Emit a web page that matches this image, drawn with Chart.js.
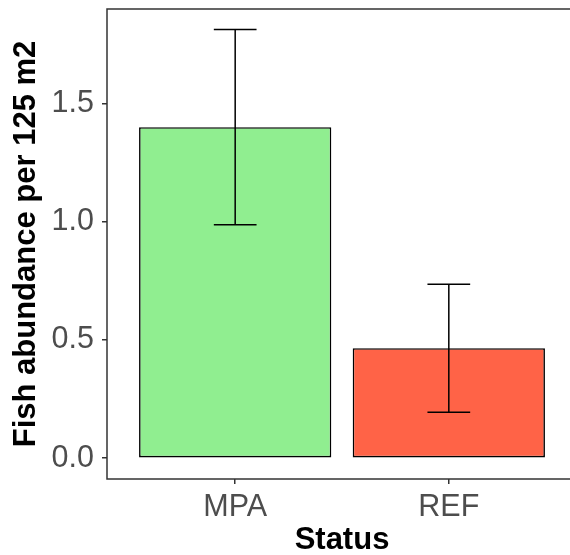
<!DOCTYPE html>
<html>
<head>
<meta charset="utf-8">
<script src="https://cdn.jsdelivr.net/npm/chart.js@4/dist/chart.umd.min.js"></script>
<style>
    html, body { margin: 0; padding: 0; overflow: hidden; background: #fff; }
</style>
</head>
<body>
<canvas id="chart" width="600" height="555"></canvas>
<script>
// data
const categories = ['MPA', 'REF'];
const meanAbundance = [1.40, 0.465];
const stdError = [0.413, 0.271];
const barColors = ['#90EE90', '#FF6347'];
const yTickValues = [0, 0.5, 1.0, 1.5];
const yMin = -0.088;
const yMax = 1.900;

// error bars + panel border drawn on top of the bars
const errorBarPlugin = {
    id: 'errorBars',
    afterDatasetsDraw(chart) {
        const ctx = chart.ctx;
        const xScale = chart.scales.x;
        const yScale = chart.scales.y;
        ctx.save();
        ctx.strokeStyle = '#000';
        ctx.lineWidth = 1.5;
        categories.forEach((cat, i) => {
            const xVal = i + 1;
            const cx = xScale.getPixelForValue(xVal);
            const capL = xScale.getPixelForValue(xVal - 0.1);
            const capR = xScale.getPixelForValue(xVal + 0.1);
            const yTop = yScale.getPixelForValue(meanAbundance[i] + stdError[i]);
            const yBot = yScale.getPixelForValue(meanAbundance[i] - stdError[i]);
            ctx.beginPath();
            ctx.moveTo(cx, yTop);
            ctx.lineTo(cx, yBot);
            ctx.moveTo(capL, yTop);
            ctx.lineTo(capR, yTop);
            ctx.moveTo(capL, yBot);
            ctx.lineTo(capR, yBot);
            ctx.stroke();
        });
        const area = chart.chartArea;
        ctx.strokeStyle = '#333333';
        ctx.lineWidth = 1.5;
        ctx.strokeRect(area.left, area.top, area.right - area.left, area.bottom - area.top);
        ctx.restore();
    }
};

// kill the label overflow padding so the layout padding decides the plot box
function noLabelPadding(scale) {
    scale.paddingTop = 0;
    scale.paddingBottom = 0;
    scale.paddingLeft = 0;
    scale.paddingRight = 0;
}

const ctx = document.getElementById('chart').getContext('2d');
new Chart(ctx, {
    type: 'bar',
    data: {
        datasets: [{
            data: categories.map((c, i) => ({ x: i + 1, y: meanAbundance[i] })),
            backgroundColor: barColors,
            borderColor: '#000',
            borderWidth: 1.6,
            borderSkipped: false,
            categoryPercentage: 1.0,
            barPercentage: 0.9
        }]
    },
    options: {
        responsive: false,
        animation: false,
        layout: { padding: { top: 9, right: 23, left: 0, bottom: 0 } },
        plugins: {
            legend: { display: false },
            tooltip: { enabled: false }
        },
        scales: {
            x: {
                type: 'linear',
                min: 0.4,
                max: 2.6,
                offset: false,
                afterBuildTicks: (scale) => {
                    scale.ticks = categories.map((c, i) => ({ value: i + 1 }));
                },
                afterFit: (scale) => {
                    scale.height = 76;
                    noLabelPadding(scale);
                },
                border: { display: false },
                grid: { offset: false, drawOnChartArea: false, drawTicks: true, tickLength: 5, color: '#333333', lineWidth: 1.5 },
                ticks: {
                    color: '#4D4D4D',
                    font: { family: 'Liberation Sans, Arial, sans-serif', size: 30.5 },
                    padding: 5,
                    maxRotation: 0,
                    callback: (v) => categories[v - 1]
                },
                title: {
                    display: true,
                    text: 'Status',
                    color: '#000',
                    font: { family: 'Liberation Sans, Arial, sans-serif', size: 31, weight: 'bold', lineHeight: 1 },
                    padding: { top: 0, bottom: -1 }
                }
            },
            y: {
                min: yMin,
                max: yMax,
                afterBuildTicks: (scale) => {
                    scale.ticks = yTickValues.map(v => ({ value: v }));
                },
                afterFit: (scale) => {
                    scale.width = 107;
                    noLabelPadding(scale);
                },
                border: { display: false },
                grid: { drawOnChartArea: false, drawTicks: true, tickLength: 5, color: '#333333', lineWidth: 1.5 },
                ticks: {
                    color: '#4D4D4D',
                    font: { family: 'Liberation Sans, Arial, sans-serif', size: 30.5 },
                    padding: 8,
                    callback: (v) => v.toFixed(1)
                },
                title: {
                    display: true,
                    text: 'Fish abundance per 125 m2',
                    color: '#000',
                    font: { family: 'Liberation Sans, Arial, sans-serif', size: 31, weight: 'bold', lineHeight: 1 },
                    padding: { top: 11, bottom: 0 }
                }
            }
        }
    },
    plugins: [errorBarPlugin]
});
</script>
</body>
</html>
